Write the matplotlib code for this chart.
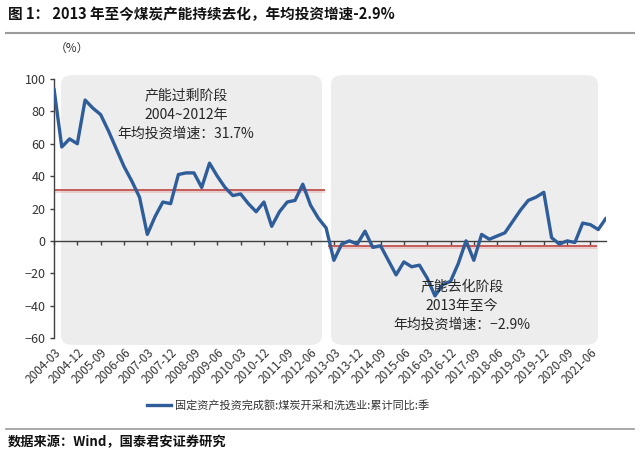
import matplotlib
matplotlib.use('Agg')
import matplotlib.pyplot as plt
import matplotlib.patheffects as pe
from matplotlib.patches import FancyBboxPatch
import pandas as pd

plt.rcParams['font.family'] = ['Noto Sans CJK SC', 'DejaVu Sans']
plt.rcParams['axes.unicode_minus'] = True

# 季度：2004-03 ~ 2021-12
quarters = [p.strftime('%Y-%m') for p in pd.period_range('2004Q1', '2021Q4', freq='Q').to_timestamp(how='end')]

# 固定资产投资完成额:煤炭开采和洗选业:累计同比 (%)
yoy = [94, 58, 63, 60, 87, 82, 78, 68, 57, 46, 37, 27, 4, 15, 24, 23, 41, 42,
       42, 33, 48, 40, 33, 28, 29, 23, 18, 24, 9, 18, 24, 25, 35, 22, 14, 8,
       -12, -2, 0, -2, 6, -4, -3, -12, -21, -13, -16, -15, -23, -34, -27, -25, -14, 0,
       -12, 4, 1, 3, 5, 12, 19, 25, 27, 30, 2, -2, 0, -1, 11, 10, 7, 14]

# 两个阶段的年均投资增速
stage_avg = [31.7, -2.9]
stage_span = [(0, 34.8), (35.2, 69.8)]
stage_text = ['产能过剩阶段\n2004~2012年\n年均投资增速：31.7%',
              '产能去化阶段\n2013年至今\n年均投资增速：−2.9%']

W, H = 640, 453
fig = plt.figure(figsize=(W / 100, H / 100), dpi=100)
ax = fig.add_axes([54 / W, 1 - 338 / H, (606 - 54) / W, (338 - 79) / H])
ax.patch.set_alpha(0)

# 灰色圆角背景框 (像素坐标 -> figure)
for x0, x1 in [(61, 322), (331, 598)]:
    box = FancyBboxPatch((x0 / W, 1 - 345 / H), (x1 - x0) / W, (345 - 75) / H,
                         boxstyle='round,pad=0,rounding_size=0.02',
                         transform=fig.transFigure, facecolor='#ededed',
                         edgecolor='none', zorder=0, clip_on=False)
    ax.add_patch(box)

x = list(range(len(yoy)))
ax.plot(x, yoy, color='#2e5d9a', lw=2.4, zorder=3, solid_joinstyle='round',
        solid_capstyle='round')

for avg, (a, b) in zip(stage_avg, stage_span):
    ax.hlines(avg, a, b, color='#c0504d', lw=1.3, zorder=2,
              path_effects=[pe.SimpleLineShadow(offset=(0, -2), shadow_color='#e0a0a0', alpha=0.45),
                            pe.Normal()])

ax.text(17, 94, stage_text[0], ha='center', va='top', fontsize=10,
        linespacing=1.45, color='#262626', zorder=4)
ax.text(52.5, -24, stage_text[1], ha='center', va='top', fontsize=10,
        linespacing=1.45, color='#262626', zorder=4)

ax.set_xlim(0, len(yoy) - 1)
ax.set_ylim(-60, 100)
ax.set_yticks(range(-60, 101, 20))
ax.tick_params(axis='y', direction='out', length=3, width=1, colors='#404040',
               labelsize=9, labelcolor='#333333', pad=3)

ticks = list(range(0, len(yoy), 3))
ax.set_xticks(ticks)
ax.set_xticklabels([quarters[i] for i in ticks], rotation=45, ha='right',
                   rotation_mode='anchor', fontsize=8.5, color='#333333')
ax.tick_params(axis='x', length=0, pad=6)

for s in ['top', 'right', 'bottom']:
    ax.spines[s].set_visible(False)
ax.spines['left'].set_color('#404040')
ax.spines['left'].set_linewidth(1)

# 零轴及刻度
zero = ax.secondary_xaxis(60 / 160)
zero.set_xticks(ticks)
zero.set_xticklabels([])
zero.tick_params(direction='out', length=3, width=1, colors='#404040')
zero.spines['bottom'].set_color('#404040')
zero.spines['bottom'].set_linewidth(1)
for s in ['top', 'left', 'right']:
    zero.spines[s].set_visible(False)

fig.text(72 / W, 1 - 48 / H, '（%）', fontsize=8.5, ha='center', va='center', color='#333333')

# 标题与来源
fig.text(8 / W, 1 - 14 / H, '图 1： 2013 年至今煤炭产能持续去化，年均投资增速-2.9%',
         fontsize=10.5, fontweight='bold', ha='left', va='center', color='#111111')
fig.add_artist(plt.Line2D([6 / W, 634 / W], [1 - 33 / H, 1 - 33 / H], color='#9a9a9a', lw=1.5))
fig.add_artist(plt.Line2D([6 / W, 634 / W], [1 - 429 / H, 1 - 429 / H], color='#9a9a9a', lw=1.2))
fig.text(8 / W, 1 - 442 / H, '数据来源：Wind，国泰君安证券研究',
         fontsize=9.5, fontweight='bold', ha='left', va='center', color='#111111')

# 图例
fig.add_artist(plt.Line2D([147 / W, 171 / W], [1 - 405 / H, 1 - 405 / H], color='#2e5d9a', lw=2.4))
fig.text(175 / W, 1 - 405 / H, '固定资产投资完成额:煤炭开采和洗选业:累计同比:季',
         fontsize=8, ha='left', va='center', color='#333333')

fig.savefig('out.png', dpi=100)
